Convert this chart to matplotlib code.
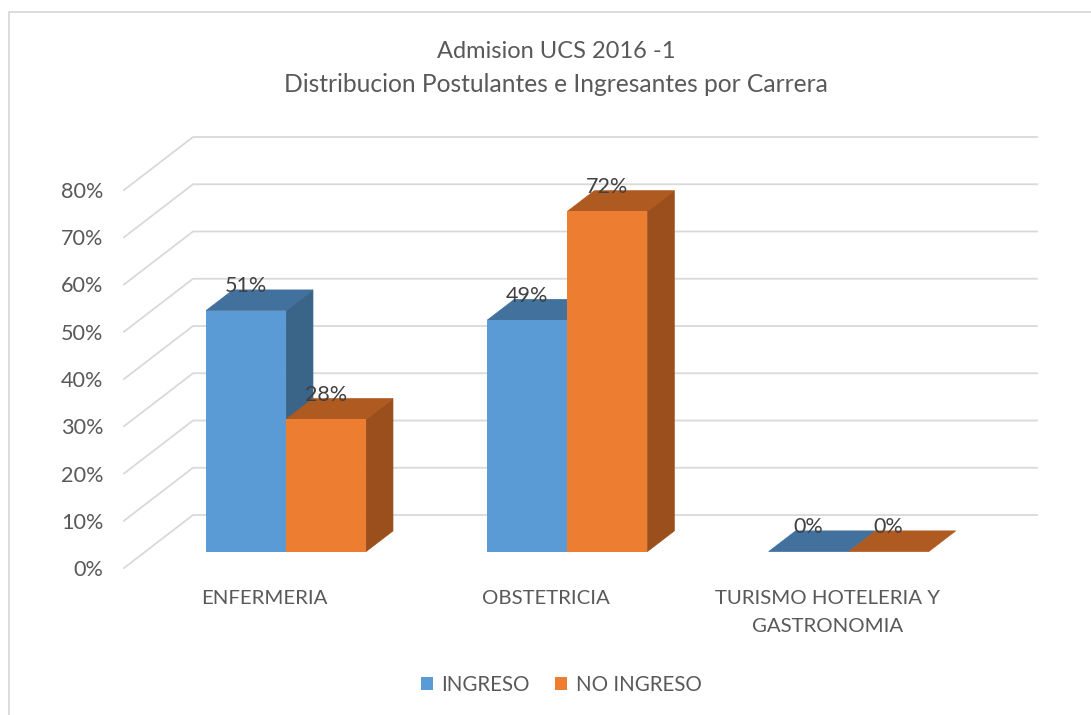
import matplotlib
matplotlib.use('Agg')
import matplotlib.pyplot as plt
from matplotlib.lines import Line2D
from matplotlib.patches import Polygon

carreras = ['ENFERMERIA', 'OBSTETRICIA', 'TURISMO HOTELERIA Y\nGASTRONOMIA']
ingreso = [51, 49, 0]
no_ingreso = [28, 72, 0]
y_ticks = [0, 10, 20, 30, 40, 50, 60, 70, 80]
y_labels = ['0%', '10%', '20%', '30%', '40%', '50%', '60%', '70%', '80%']

W, H = 1091, 715
plt.rcParams['font.family'] = ['Lato', 'DejaVu Sans']

fig = plt.figure(figsize=(W / 100, H / 100), dpi=100)
# floor front edge runs 124..968 px, 0% at y=568, 80% at y=190
ax = fig.add_axes([124 / W, 1 - 568 / H, 844 / W, 378 / H])
ax.set_xlim(-0.5, 2.5)
ax.set_ylim(0, 80)
for s in ax.spines.values():
    s.set_visible(False)

# fake 3d: depth 1 = the whole floor, 69 px across and 53 px up
DX = 69 / (844 / 3)
DY = 53 / (378 / 80)
BAR_W = 80 / (844 / 3)
D_FRONT = 0.31
D_BAR = 0.39


def skew(x, y, d):
    return (x + d * DX, y + d * DY)


# walls
for t in y_ticks:
    p0 = skew(-0.5, t, 0)
    p1 = skew(-0.5, t, 1)
    p2 = skew(2.5, t, 1)
    ax.plot([p0[0], p1[0], p2[0]], [p0[1], p1[1], p2[1]], color='#D9D9D9', lw=1.3,
            clip_on=False, zorder=1)


def draw_bars(values, x_off, front, top, side, label, z):
    xs = []
    for i, v in enumerate(values):
        xs.append(i + x_off)
    x0, base = skew(0, 0, D_FRONT)
    lefts = [x + x0 for x in xs]
    bars = ax.bar(lefts, values, BAR_W, bottom=base, align='edge', color=front,
                  label=label, zorder=z + 2, clip_on=False)
    for left, v in zip(lefts, values):
        y_top = base + v
        a = (left, y_top)
        b = (left + BAR_W, y_top)
        c = skew(left + BAR_W, y_top, D_BAR)
        d = skew(left, y_top, D_BAR)
        ax.add_patch(Polygon([a, b, c, d], closed=True, color=top, lw=0.5,
                             zorder=z + 1, clip_on=False))
        if v > 0:
            e = (left + BAR_W, base)
            f = skew(left + BAR_W, base, D_BAR)
            ax.add_patch(Polygon([b, c, f, e], closed=True, color=side, lw=0.5,
                                 zorder=z, clip_on=False))
        ax.annotate(f'{v}%', xy=(left + BAR_W / 2, y_top), xytext=(0, 17.5),
                    textcoords='offset points', ha='center', va='center',
                    fontsize=15.5, color='#404040', zorder=20, annotation_clip=False)
    return bars


draw_bars(ingreso, -BAR_W, '#5B9BD5', '#41719C', '#3A6488', 'INGRESO', 2)
draw_bars(no_ingreso, 0, '#ED7D31', '#AE5A21', '#9A4F1D', 'NO INGRESO', 6)

ax.set_yticks(y_ticks)
ax.set_yticklabels(y_labels, fontsize=15.6, color='#595959')
ax.set_xticks(range(len(carreras)))
ax.set_xticklabels(carreras, fontsize=14.7, color='#595959', linespacing=1.8)
ax.tick_params(axis='y', length=0, pad=15)
ax.tick_params(axis='x', length=0, pad=15.5)

fig.text(556 / W, 1 - 52 / H, 'Admision UCS 2016 -1', ha='center', va='center',
         fontsize=17, color='#595959')
fig.text(556 / W, 1 - 85 / H, 'Distribucion Postulantes e Ingresantes por Carrera',
         ha='center', va='center', fontsize=17.7, color='#595959')

fig.legend(loc='center', bbox_to_anchor=(561 / W, 1 - 685 / H), ncol=2, frameon=False,
           fontsize=14.8, labelcolor='#595959', handlelength=0.62, handleheight=0.62,
           handletextpad=0.4, columnspacing=1.2)

# chart frame, only left and top show in the crop
fig.add_artist(Line2D([9 / W, 9 / W, 1], [0, 1 - 12 / H, 1 - 12 / H],
                      color='#D9D9D9', lw=1.3))

fig.savefig('out.png', dpi=100)
